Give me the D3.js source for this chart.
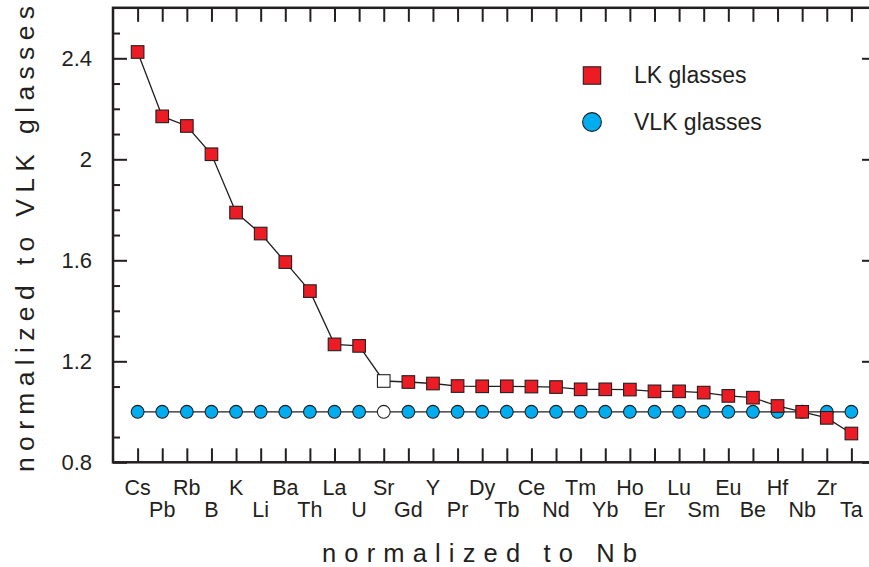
<!DOCTYPE html>
<html>
<head>
<meta charset="utf-8">
<script src="https://cdn.jsdelivr.net/npm/d3@7"></script>
<style>
  html, body { margin: 0; padding: 0; background: #fff; }
  svg { display: block; }
  text { font-family: "Liberation Sans", Arial, Helvetica, sans-serif; fill: #231f20; }
</style>
</head>
<body>
<svg id="chart" width="869" height="567"></svg>
<script>
// Elements in plotting order
const elements = ["Cs","Pb","Rb","B","K","Li","Ba","Th","La","U",
                  "Sr","Gd","Y","Pr","Dy","Tb","Ce","Nd","Tm","Yb",
                  "Ho","Er","Lu","Sm","Eu","Be","Hf","Nb","Zr","Ta"];

// LK glasses normalized to VLK glasses (and to Nb)
const lkValues = [2.425, 2.170, 2.132, 2.020, 1.789, 1.706, 1.593, 1.478, 1.267, 1.261,
                  1.122, 1.118, 1.112, 1.102, 1.101, 1.101, 1.100, 1.098, 1.089, 1.089,
                  1.088, 1.081, 1.081, 1.076, 1.063, 1.056, 1.023, 1.000, 0.976, 0.914];

// VLK glasses normalized to themselves
const vlkValues = [1,1,1,1,1,1,1,1,1,1, 1,1,1,1,1,1,1,1,1,1, 1,1,1,1,1,1,1,1,1,1];

// Element drawn with an open symbol
const openElement = "Sr";

const yMajorTicks = [0.8, 1.2, 1.6, 2.0, 2.4];
const yTickLabels = ["0.8", "1.2", "1.6", "2", "2.4"];
const yMinorTicksLeft = [0.9, 1.1, 1.3, 1.4, 1.5, 1.7, 1.8, 1.9, 2.1, 2.2, 2.3, 2.5];
const yMinorTicksRight = [0.9, 1.0, 1.1, 1.3, 1.4, 1.5, 1.7, 1.8, 1.9, 2.1, 2.2, 2.3, 2.5];

const seriesNames = ["LK glasses", "VLK glasses"];

const INK = "#231f20";
const RED = "#ed1c24";
const BLUE = "#00aeef";

const svg = d3.select("#chart");

const plotLeft = 113, plotRight = 876, plotTop = 7.8, plotBottom = 462.3;

const x = d3.scaleLinear().domain([-1, elements.length]).range([plotLeft, plotRight]);
const y = d3.scaleLinear().domain([0.8, 2.6]).range([plotBottom, plotTop]);
const idx = elements.map((d, i) => i);

function styleAxis(g) {
  g.select(".domain").remove();
  g.selectAll(".tick line").attr("stroke", INK).attr("stroke-width", 2);
}

// Left axis: major ticks with labels, minor ticks without
svg.append("g").attr("transform", `translate(${plotLeft},0)`)
  .call(d3.axisLeft(y).tickValues(yMajorTicks).tickSize(-14).tickPadding(21)
        .tickFormat((d, i) => yTickLabels[i]))
  .call(styleAxis)
  .call(g => g.selectAll(".tick text").attr("font-size", 22).attr("fill", INK)
                .attr("font-family", "Liberation Sans, Arial, sans-serif"));
svg.append("g").attr("transform", `translate(${plotLeft},0)`)
  .call(d3.axisLeft(y).tickValues(yMinorTicksLeft).tickSize(-7).tickFormat(""))
  .call(styleAxis);

// Right axis
svg.append("g").attr("transform", `translate(${plotRight},0)`)
  .call(d3.axisRight(y).tickValues(yMajorTicks).tickSize(-14).tickFormat(""))
  .call(styleAxis);
svg.append("g").attr("transform", `translate(${plotRight},0)`)
  .call(d3.axisRight(y).tickValues(yMinorTicksRight).tickSize(-7).tickFormat(""))
  .call(styleAxis);

// Top and bottom axes: a tick at every element
svg.append("g").attr("transform", `translate(0,${plotTop})`)
  .call(d3.axisTop(x).tickValues(idx).tickSize(-14).tickFormat(""))
  .call(styleAxis);
svg.append("g").attr("transform", `translate(0,${plotBottom})`)
  .call(d3.axisBottom(x).tickValues(idx).tickSize(-14).tickFormat(""))
  .call(styleAxis);

// Frame
svg.append("rect")
  .attr("x", plotLeft).attr("y", plotTop)
  .attr("width", plotRight - plotLeft).attr("height", plotBottom - plotTop)
  .attr("fill", "none").attr("stroke", INK).attr("stroke-width", 2.5);

// Element labels in two staggered rows
svg.append("g").selectAll("text").data(elements).join("text")
  .attr("x", (d, i) => x(i))
  .attr("y", (d, i) => i % 2 === 0 ? 495 : 517)
  .attr("text-anchor", "middle")
  .attr("font-size", 21.5)
  .text(d => d);

// Axis titles
svg.append("text")
  .attr("transform", "translate(34,239) rotate(-90)")
  .attr("text-anchor", "middle")
  .attr("font-size", 26.5)
  .attr("textLength", 466).attr("lengthAdjust", "spacing")
  .text("normalized to VLK glasses");

svg.append("text")
  .attr("x", 479.5).attr("y", 562)
  .attr("text-anchor", "middle")
  .attr("font-size", 25.5)
  .attr("textLength", 315).attr("lengthAdjust", "spacing")
  .text("normalized to Nb");

const line = d3.line().x((d, i) => x(i)).y(d => y(d));

// VLK glasses series
svg.append("path").datum(vlkValues)
  .attr("d", line).attr("fill", "none").attr("stroke", INK).attr("stroke-width", 1.3);
svg.append("g").selectAll("circle").data(vlkValues).join("circle")
  .attr("cx", (d, i) => x(i)).attr("cy", d => y(d)).attr("r", 6.4)
  .attr("fill", (d, i) => elements[i] === openElement ? "#fff" : BLUE)
  .attr("stroke", INK).attr("stroke-width", 1.1);

// LK glasses series
const sq = 12.6;
svg.append("path").datum(lkValues)
  .attr("d", line).attr("fill", "none").attr("stroke", INK).attr("stroke-width", 1.3);
svg.append("g").selectAll("rect").data(lkValues).join("rect")
  .attr("x", (d, i) => x(i) - sq / 2).attr("y", d => y(d) - sq / 2)
  .attr("width", sq).attr("height", sq)
  .attr("fill", (d, i) => elements[i] === openElement ? "#fff" : RED)
  .attr("stroke", INK).attr("stroke-width", 1.1);

// Legend
const legend = svg.append("g");
legend.append("rect").attr("x", 592 - 8.7).attr("y", 75.5 - 8.7)
  .attr("width", 17.4).attr("height", 17.4)
  .attr("fill", RED).attr("stroke", INK).attr("stroke-width", 1.1);
legend.append("circle").attr("cx", 592).attr("cy", 122).attr("r", 9.4)
  .attr("fill", BLUE).attr("stroke", INK).attr("stroke-width", 1.1);
legend.selectAll("text").data(seriesNames).join("text")
  .attr("x", 634).attr("y", (d, i) => i === 0 ? 82.5 : 130)
  .attr("font-size", 23)
  .text(d => d);
</script>
</body>
</html>
